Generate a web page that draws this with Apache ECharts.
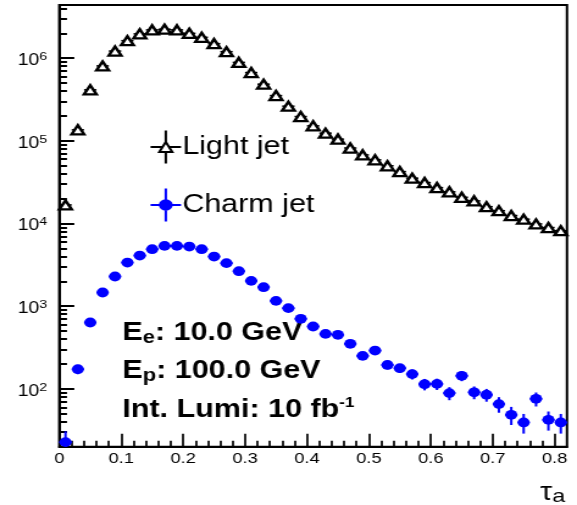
<!DOCTYPE html>
<html>
<head>
<meta charset="utf-8">
<script src="https://cdn.jsdelivr.net/npm/echarts@6/dist/echarts.min.js"></script>
<style>
  html, body { margin: 0; padding: 0; background: #fff; }
  #wrap { width: 577px; height: 505px; overflow: hidden; position: relative; background: #fff; }
  #chart { width: 473px; height: 505px; transform: scaleX(1.21987); transform-origin: 0 0; }
</style>
</head>
<body>
<div id="wrap"><div id="chart"></div></div>
<script>
// ---------------- data ----------------
const tau = [0.01, 0.03, 0.05, 0.07, 0.09, 0.11, 0.13, 0.15, 0.17, 0.19,
             0.21, 0.23, 0.25, 0.27, 0.29, 0.31, 0.33, 0.35, 0.37, 0.39,
             0.41, 0.43, 0.45, 0.47, 0.49, 0.51, 0.53, 0.55, 0.57, 0.59,
             0.61, 0.63, 0.65, 0.67, 0.69, 0.71, 0.73, 0.75, 0.77, 0.79, 0.81];

const lightJet = [1.68e4, 1.36e5, 4.14e5, 8.07e5, 1.22e6, 1.63e6, 1.97e6, 2.2e6, 2.24e6, 2.2e6,
                  2.0e6, 1.79e6, 1.5e6, 1.2e6, 8.9e5, 6.7e5, 4.85e5, 3.53e5, 2.63e5, 1.97e5,
                  1.52e5, 1.24e5, 1.05e5, 8.2e4, 6.77e4, 5.9e4, 5.0e4, 4.25e4, 3.54e4, 3.13e4,
                  2.72e4, 2.42e4, 2.08e4, 1.88e4, 1.6e4, 1.43e4, 1.25e4, 1.13e4, 9.9e3, 8.95e3, 8.2e3];

const charmJet = [22.7, 173, 636, 1466, 2290, 3375, 4100, 4900, 5370, 5370,
                  5270, 4900, 3990, 3320, 2655, 2028, 1700, 1162, 948, 705,
                  569, 463, 451, 351, 251, 291, 195, 178, 151, 114,
                  115, 89, 144, 91, 85, 65.5, 48.6, 39.3, 75.9, 42.3, 39.3];

const charmErr = [8, 22, 42, 64, 80, 97, 107, 117, 123, 123,
                  121, 117, 106, 96, 86, 75, 69, 57, 51, 44,
                  40, 36, 35, 31, 27, 29, 23, 22, 21, 18,
                  18, 16, 20, 16, 15, 14, 12, 10.5, 14.6, 11, 10.5];

const binHalfWidth = 0.01;

const xTickValues = [0, 0.1, 0.2, 0.3, 0.4, 0.5, 0.6, 0.7, 0.8];
const xTickLabels = ['0', '0.1', '0.2', '0.3', '0.4', '0.5', '0.6', '0.7', '0.8'];
const yMajorTicks = [1e2, 1e3, 1e4, 1e5, 1e6];
const yMinorTicks = [30, 40, 50, 60, 70, 80, 90,
                     200, 300, 400, 500, 600, 700, 800, 900,
                     2e3, 3e3, 4e3, 5e3, 6e3, 7e3, 8e3, 9e3,
                     2e4, 3e4, 4e4, 5e4, 6e4, 7e4, 8e4, 9e4,
                     2e5, 3e5, 4e5, 5e5, 6e5, 7e5, 8e5, 9e5,
                     2e6, 3e6, 4e6];
const seriesNames = ['Light jet', 'Charm jet'];
const annotations = ['E|e|: 10.0 GeV', 'E|p|: 100.0 GeV', 'Int. Lumi: 10 fb|-1'];
const xTitle = ['τ', 'a'];

// ---------------- build ----------------
const FONT = "'Liberation Sans', Arial, Helvetica, sans-serif";
const BLUE = '#0000ff';

const lightData = tau.map((x, i) => [x, lightJet[i]]);
const charmData = tau.map((x, i) => [x, charmJet[i]]);
const lightErrData = tau.map((x, i) => [x, lightJet[i], 0]);
const charmErrData = tau.map((x, i) => [x, charmJet[i], charmErr[i]]);

function errRender(color, lwV, lwH) {
  return function (params, api) {
    const x = api.value(0), y = api.value(1), e = api.value(2);
    const cs = params.coordSys;
    const c = api.coord([x, y]);
    const l = api.coord([x - binHalfWidth, y]);
    const r = api.coord([x + binHalfWidth, y]);
    const children = [{
      type: 'line',
      shape: { x1: l[0], y1: c[1], x2: r[0], y2: c[1] },
      style: { stroke: color, lineWidth: lwH }
    }];
    if (e > 0) {
      let yt = api.coord([x, y + e])[1];
      let yb = (y - e > 0) ? api.coord([x, y - e])[1] : cs.y + cs.height;
      yt = Math.max(yt, cs.y);
      yb = Math.min(yb, cs.y + cs.height);
      children.push({
        type: 'line',
        shape: { x1: c[0], y1: yt, x2: c[0], y2: yb },
        style: { stroke: color, lineWidth: lwV }
      });
    }
    return { type: 'group', children: children };
  };
}

function supLabel(v) {
  const n = Math.round(Math.log10(v));
  return '{b|10}{sup|' + n + '}';
}

function annText(s) {
  const parts = s.split('|');
  if (parts.length === 3) {
    return '{b|' + parts[0] + '}{s|' + parts[1] + '}{b|' + parts[2] + '}';
  }
  return '{b|' + parts[0] + '}{p|' + parts[1] + '}';
}

const grid = { left: 48.6, right: 8.2, top: 5, bottom: 58.3, show: true,
  borderColor: '#000', borderWidth: 2, backgroundColor: 'transparent', containLabel: false,
  outerBoundsMode: 'none' };

const yCommon = { type: 'log', logBase: 10, min: 20, max: 4.4e6, position: 'left',
  splitLine: { show: false }, minorSplitLine: { show: false } };

const lightIcon = 'path://M0 16.5 L9.8 16.5 M15.2 16.5 L25 16.5 M12.5 0 L12.5 11.5 M12.5 21.5 L12.5 33 M12.5 11.5 L17.8 21.5 L7.2 21.5 Z';
const charmIcon = 'path://M0 16.5 L25 16.5 M12.5 0 L12.5 33 M7.8 16.5 A4.7 4.7 0 1 1 17.2 16.5 A4.7 4.7 0 1 1 7.8 16.5 Z';

const annY = [333, 371, 410];
const richAnn = {
  b: { fontSize: 25, fontWeight: 'bold', fontFamily: FONT, lineHeight: 28, fill: '#000', color: '#000' },
  s: { fontSize: 18, fontWeight: 'bold', fontFamily: FONT, lineHeight: 10, verticalAlign: 'bottom', fill: '#000', color: '#000' },
  p: { fontSize: 14, fontWeight: 'bold', fontFamily: FONT, lineHeight: 12, verticalAlign: 'top', fill: '#000', color: '#000' }
};

const graphics = annotations.map((s, i) => ({
  type: 'text',
  x: 100.3,
  y: annY[i],
  style: { text: annText(s), rich: richAnn, align: 'left', verticalAlign: 'middle',
           fontFamily: FONT, fontSize: 25, fontWeight: 'bold', fill: '#000' }
}));
graphics.push({
  type: 'text',
  x: 463.3,
  y: 493,
  style: {
    text: '{t|' + xTitle[0] + '}{s|' + xTitle[1] + '}',
    rich: {
      t: { fontSize: 25, fontFamily: FONT, lineHeight: 26, fill: '#000', color: '#000' },
      s: { fontSize: 19, fontFamily: FONT, lineHeight: 20, verticalAlign: 'bottom', fill: '#000', color: '#000' }
    },
    align: 'right', verticalAlign: 'middle', fill: '#000'
  }
});

const option = {
  animation: false,
  backgroundColor: '#fff',
  textStyle: { fontFamily: FONT, color: '#000' },
  grid: grid,
  legend: {
    left: 122.4, top: 129.5, orient: 'vertical', padding: 0,
    itemWidth: 25, itemHeight: 33, itemGap: 23,
    selectedMode: false,
    textStyle: { fontSize: 25, color: '#000', fontFamily: FONT, padding: [0, 0, 0, -4] },
    data: [
      { name: seriesNames[0], icon: lightIcon, itemStyle: { color: '#fff', borderColor: '#000', borderWidth: 2 } },
      { name: seriesNames[1], icon: charmIcon, itemStyle: { color: BLUE, borderColor: BLUE, borderWidth: 2 } }
    ]
  },
  xAxis: [{
    type: 'value', min: 0, max: 0.82, interval: 0.1, position: 'bottom',
    axisLine: { show: true, onZero: false, lineStyle: { color: '#000', width: 2 } },
    axisTick: { show: true, inside: true, length: 13, customValues: xTickValues, lineStyle: { color: '#000', width: 1.7 } },
    minorTick: { show: true, splitNumber: 5, length: 6, lineStyle: { color: '#000', width: 1.7 } },
    axisLabel: { customValues: xTickValues, margin: 5, fontSize: 15, color: '#000', fontFamily: FONT,
      formatter: function (v) { const i = xTickValues.findIndex(t => Math.abs(t - v) < 1e-9); return i >= 0 ? xTickLabels[i] : ''; } },
    splitLine: { show: false }, minorSplitLine: { show: false }
  }],
  yAxis: [
    Object.assign({}, yCommon, {
      axisLine: { show: true, onZero: false, lineStyle: { color: '#000', width: 2 } },
      axisTick: { show: true, inside: true, length: 12.3, customValues: yMajorTicks, lineStyle: { color: '#000', width: 2 } },
      minorTick: { show: false },
      axisLabel: { customValues: yMajorTicks, margin: 10, color: '#000', formatter: supLabel, padding: [5, 0, 0, 0],
        rich: {
          b: { fontSize: 16, fontFamily: FONT, lineHeight: 20, color: '#000' },
          sup: { fontSize: 11.5, fontFamily: FONT, lineHeight: 12, verticalAlign: 'top', color: '#000' }
        } }
    }),
    Object.assign({}, yCommon, {
      axisLine: { show: false, onZero: false },
      axisTick: { show: true, inside: true, length: 6.3, customValues: yMinorTicks, lineStyle: { color: '#000', width: 2 } },
      minorTick: { show: false },
      axisLabel: { show: false }
    })
  ],
  series: [
    { type: 'custom', name: 'light-err', renderItem: errRender('#000', 2, 1.5), data: lightErrData,
      encode: { x: 0, y: 1 }, z: 2, silent: true },
    { type: 'custom', name: 'charm-err', renderItem: errRender(BLUE, 2, 2), data: charmErrData,
      encode: { x: 0, y: 1 }, z: 2, silent: true },
    { type: 'scatter', name: seriesNames[0], data: lightData, symbol: 'triangle', symbolSize: [10.2, 9],
      itemStyle: { color: '#fff', borderColor: '#000', borderWidth: 2.4, opacity: 1 }, z: 5 },
    { type: 'scatter', name: seriesNames[1], data: charmData, symbol: 'circle', symbolSize: 9.8,
      itemStyle: { color: BLUE, opacity: 1 }, z: 5 }
  ],
  graphic: graphics
};

const chart = echarts.init(document.getElementById('chart'));
chart.setOption(option);
</script>
</body>
</html>
